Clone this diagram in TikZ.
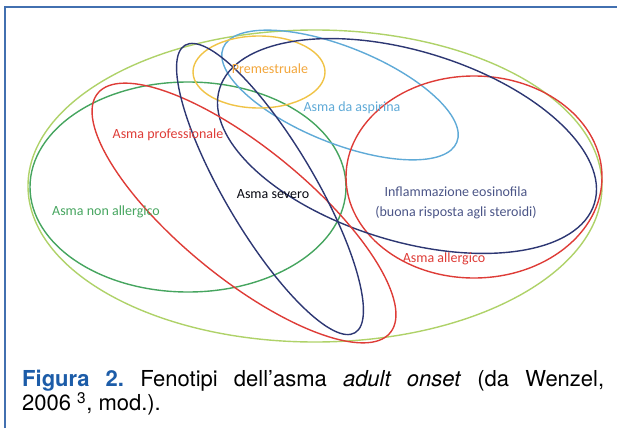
\documentclass[tikz,border=0pt]{standalone}
\usepackage{fontspec}
\newfontfamily\labelfont{Carlito}
\newfontfamily\capfont{TeX Gyre Heros}
\definecolor{frameblue}{RGB}{66,112,176}
\definecolor{capblue}{RGB}{28,92,168}
\definecolor{limegreen}{RGB}{175,210,105}
\definecolor{leafgreen}{RGB}{70,165,95}
\definecolor{ringred}{RGB}{222,60,55}
\definecolor{navy}{RGB}{45,55,115}
\definecolor{skyblue}{RGB}{95,170,215}
\definecolor{amber}{RGB}{240,195,70}
\definecolor{slate}{RGB}{75,85,135}
\begin{document}
\frenchspacing
\begin{tikzpicture}[x=1pt, y=-1pt,
  ring/.style={line width=1.4pt},
  lbl/.style={font=\labelfont\fontsize{14}{20}\selectfont, inner sep=0pt}]
  \useasboundingbox (0,0) rectangle (617,428);
  % frame, open at the bottom
  \draw[frameblue, line width=2pt] (5,428) -- (5,7) -- (617,7);
  % phenotype rings: centre / radii / tilt / colour
  \foreach \cx/\cy/\rx/\ry/\tilt/\col in {
      315/186/287/156/0/limegreen, 188/187/158/105/0/leafgreen,
      340/95/126/48/22/skyblue, 259/72/66/36/0/amber,
      474/177/128/101/0/ringred, 407/146/196/95/17/navy,
      244/213/189/65/39.3/ringred, 270/189/167/45/59.4/navy}
    \draw[ring, \col, rotate around={-\tilt:(\cx,\cy)}]
      (\cx,\cy) ellipse [x radius=\rx pt, y radius=\ry pt];
  % labels
  \node[lbl, amber!85!red] (prem) at (270,69) {Premestruale};
  \node[lbl, skyblue] (aspir) at (352,108) {Asma da aspirina};
  \node[lbl, ringred] (prof) at (168,135) {Asma professionale};
  \node[lbl, black!85!navy] (sev) at (273,194) {Asma severo};
  \node[lbl, leafgreen] (nonall) at (106,212) {Asma non allergico};
  \node[lbl, slate, align=center] (eos) at (456,203)
    {Inflammazione eosinofila\\(buona risposta agli steroidi)};
  \node[lbl, ringred] (allerg) at (444,259) {Asma allergico};
  % caption
  \node[anchor=north west, inner sep=0pt, text width=582pt, align=justify,
    font=\capfont\fontsize{22}{22.5}\selectfont] (caption) at (22,370)
    {\textcolor{capblue}{\bfseries Figura 2.} Fenotipi dell’asma
     \textit{adult onset} (da Wenzel,\linebreak 2006 \textsuperscript{3}, mod.).};
\end{tikzpicture}
\end{document}
